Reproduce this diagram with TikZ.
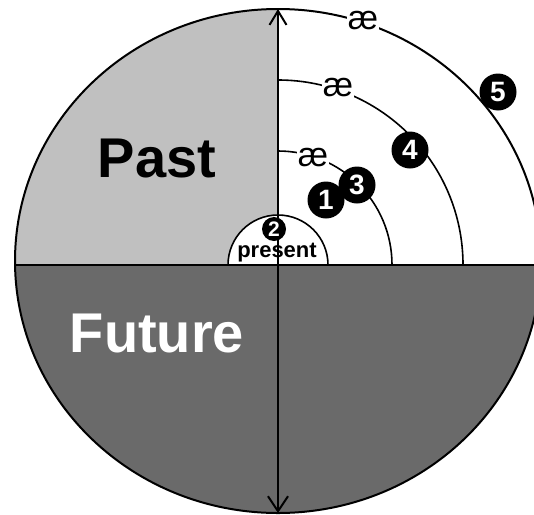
\documentclass[tikz,border=0pt]{standalone}
\usepackage{fontspec}
\setmainfont{Liberation Sans}
\usetikzlibrary{arrows.meta}
\definecolor{pastgray}{HTML}{C0C0C0}
\definecolor{futuregray}{HTML}{6A6A6A}
\tikzset{
  ring/.style={line width=1.6pt},
  ae/.style={fill=white, inner sep=0.5pt, font=\fontsize{34}{34}\selectfont},
  numdot/.style={circle, fill=black, text=white, inner sep=0pt, minimum size=37pt, font=\bfseries\fontsize{28}{28}\selectfont},
  bigword/.style={anchor=base, font=\bfseries\fontsize{56}{56}\selectfont},
}
\begin{document}
\begin{tikzpicture}[x=1pt,y=-1pt]
\useasboundingbox (0,0) rectangle (534,514);
\clip (0,0) rectangle (534,514);
\coordinate (O) at (278,265);
\begin{scope}
  \clip (278,261) ellipse [x radius=263, y radius=252];
  \fill[pastgray] (0,0) rectangle (278,265);
  \fill[white] (278,0) rectangle (534,265);
  \fill[futuregray] (0,265) rectangle (534,514);
\end{scope}
% quarter arcs
\draw[ring] (392,265) arc[start angle=0, end angle=-90, radius=114];
\draw[ring] (463,265) arc[start angle=0, end angle=-90, radius=185];
% outer ellipse
\draw[line width=2pt] (278,261) ellipse [x radius=263, y radius=252];
% present semicircle
\filldraw[fill=white, line width=1.6pt] (228,265) arc[start angle=180, end angle=360, radius=50];
% horizontal line
\coordinate (L) at (15,265);
\coordinate (R) at (540,265);
\draw[line width=2.2pt] (L) -- (R);
% vertical arrow
\coordinate (top) at (278,9);
\coordinate (bot) at (278,513);
\draw[line width=2.2pt, {Straight Barb[length=14pt,width=17pt,line width=2pt]}-{Straight Barb[length=15pt,width=20pt,line width=2pt]}] (top) -- (bot);
% ae labels
\node[ae] (ae1) at (313,158) {æ};
\node[ae] (ae2) at (338,88) {æ};
\node[ae] (ae3) at (363,21) {æ};
% texts
\node[bigword] (past) at (157,177) {Past};
\node[bigword, text=white] (future) at (157,352) {Future};
\node[anchor=base, inner sep=0pt, font=\bfseries\fontsize{22}{22}\selectfont] (present) at (277,257) {present};
% numbered dots
\node[numdot] (n1) at (326,200) {1};
\node[numdot] (n3) at (357,185) {3};
\node[numdot, minimum size=24pt, font=\bfseries\fontsize{21}{21}\selectfont] (n2) at (274,229) {2};
\node[numdot] (n4) at (410,150) {4};
\node[numdot] (n5) at (498,92) {5};
\end{tikzpicture}
\end{document}
